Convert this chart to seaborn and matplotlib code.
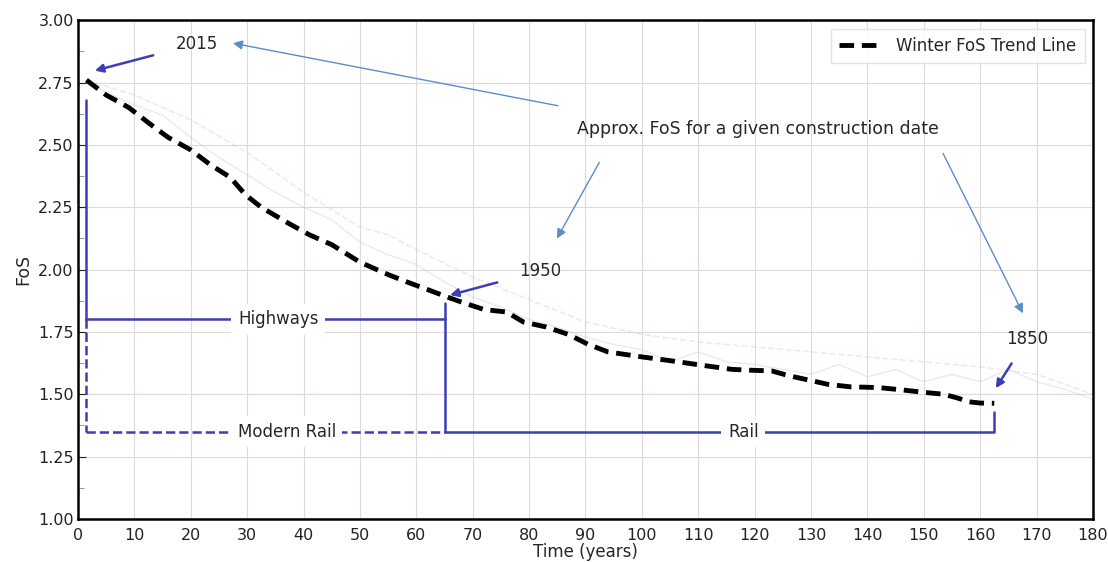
import numpy as np
import pandas as pd
import matplotlib
matplotlib.use('Agg')
import matplotlib.pyplot as plt
from matplotlib.ticker import MultipleLocator
import seaborn as sns

# winter FoS trend line
trend_t = [1.5, 5, 9, 13, 16, 20, 23.5, 27, 29.7, 32.5, 37, 41, 45, 50, 55, 59, 62, 65.5, 68,
           72, 76, 79, 83, 87, 90.5, 94, 100, 105, 110.5, 116, 120, 123, 126, 129, 133, 137,
           142, 146, 150, 153.6, 156, 158, 160, 162.5]
trend_fos = [2.76, 2.70, 2.65, 2.58, 2.53, 2.48, 2.42, 2.37, 2.30, 2.25, 2.19, 2.14, 2.10, 2.03,
             1.98, 1.945, 1.92, 1.89, 1.87, 1.84, 1.83, 1.79, 1.77, 1.74, 1.70, 1.67, 1.65, 1.635,
             1.617, 1.60, 1.596, 1.594, 1.575, 1.56, 1.54, 1.53, 1.527, 1.518, 1.508, 1.50, 1.485,
             1.47, 1.465, 1.464]

# faint construction-date curves in the background
faint1_t = [1.5, 10, 20, 30, 40, 50, 55, 60, 70, 80, 90, 100, 110, 120, 130, 140, 150, 160, 170, 180]
faint1_fos = [2.76, 2.70, 2.60, 2.47, 2.31, 2.17, 2.14, 2.08, 1.97, 1.88, 1.79, 1.74, 1.71, 1.69,
              1.67, 1.65, 1.63, 1.61, 1.58, 1.50]
faint2_t = [1.5, 5, 10, 15, 20, 25, 30, 35, 40, 45, 50, 55, 60, 65, 70, 75, 80, 85, 90, 95, 100,
            105, 110, 115, 120, 125, 130, 135, 140, 145, 150, 155, 160, 165, 170, 175, 180]
faint2_fos = [2.76, 2.71, 2.66, 2.62, 2.53, 2.45, 2.38, 2.31, 2.25, 2.20, 2.11, 2.06, 2.02, 1.95,
              1.89, 1.85, 1.80, 1.77, 1.73, 1.70, 1.68, 1.63, 1.67, 1.63, 1.62, 1.60, 1.58, 1.62,
              1.57, 1.60, 1.55, 1.58, 1.55, 1.60, 1.55, 1.52, 1.48]

df = pd.DataFrame({'t': trend_t, 'fos': trend_fos})
dff1 = pd.DataFrame({'t': faint1_t, 'fos': faint1_fos})
dff2 = pd.DataFrame({'t': faint2_t, 'fos': faint2_fos})

sns.set_style('whitegrid', {'grid.color': '#dedada', 'axes.edgecolor': 'black'})
plt.rcParams['font.family'] = ['DejaVu Sans']

fig = plt.figure(figsize=(11.08, 5.62), dpi=100)
ax = fig.add_axes([0.0704, 0.0765, 0.916, 0.8875])

sns.lineplot(data=dff1, x='t', y='fos', ax=ax, color='#e8b8c8', lw=1.2, ls='--', alpha=0.35)
sns.lineplot(data=dff2, x='t', y='fos', ax=ax, color='#c8c0c8', lw=1.0, alpha=0.35)
sns.lineplot(data=df, x='t', y='fos', ax=ax, color='black', lw=3.5, ls=(0, (3, 1.6)),
             label='Winter FoS Trend Line')

ax.set_xlim(0, 180)
ax.set_ylim(1.0, 3.0)
ax.xaxis.set_major_locator(MultipleLocator(10))
ax.yaxis.set_major_locator(MultipleLocator(0.25))
ax.yaxis.set_minor_locator(MultipleLocator(0.125))
ax.yaxis.set_major_formatter(matplotlib.ticker.FormatStrFormatter('%.2f'))
ax.tick_params(axis='y', which='both', direction='in', left=True, length=4, color='#888888')
ax.tick_params(axis='y', which='major', length=6)
ax.tick_params(labelsize=11.5, colors='#222222', pad=3)
for s in ax.spines.values():
    s.set_linewidth(1.8)
    s.set_color('black')
ax.set_xlabel('Time (years)', fontsize=12, labelpad=0)
ax.set_ylabel('FoS', fontsize=12.5, labelpad=4)

bc = '#3d3db5'
ac = '#5b8ec9'
white = dict(boxstyle='square,pad=0.4', fc='white', ec='none')

# brackets
ax.plot([1.5, 1.5], [2.68, 1.80], color=bc, lw=1.8)
ax.plot([1.5, 65], [1.80, 1.80], color=bc, lw=1.8)
ax.plot([65, 65], [1.865, 1.35], color=bc, lw=1.8)
ax.plot([1.5, 1.5], [1.80, 1.35], color=bc, lw=1.8, ls='--')
ax.plot([1.5, 65], [1.35, 1.35], color=bc, lw=1.8, ls='--')
ax.plot([65, 162.5, 162.5], [1.35, 1.35, 1.43], color=bc, lw=1.8)
ax.text(35.5, 1.80, 'Highways', ha='center', va='center', fontsize=12, bbox=white)
ax.text(37, 1.35, 'Modern Rail', ha='center', va='center', fontsize=12, bbox=white)
ax.text(118, 1.35, 'Rail', ha='center', va='center', fontsize=12, bbox=white)

# year annotations
ax.annotate('2015', xy=(2.5, 2.795), xytext=(21, 2.905), ha='center', va='center', fontsize=12,
            arrowprops=dict(arrowstyle='-|>', color=bc, lw=1.8, shrinkA=14, mutation_scale=12))
ax.annotate('1950', xy=(65.5, 1.895), xytext=(82, 1.995), ha='center', va='center', fontsize=12,
            arrowprops=dict(arrowstyle='-|>', color=bc, lw=1.8, shrinkA=14, mutation_scale=12))
ax.annotate('1850', xy=(162.5, 1.515), xytext=(168.3, 1.72), ha='center', va='center', fontsize=12,
            arrowprops=dict(arrowstyle='-|>', color=bc, lw=1.8, shrinkA=10, mutation_scale=12))

ax.text(120.5, 2.565, 'Approx. FoS for a given construction date', ha='center', va='center',
        fontsize=12.5)
for (x0, y0), (x1, y1) in [((85.6, 2.655), (27, 2.91)),
                           ((92.7, 2.44), (84.7, 2.115)),
                           ((153.2, 2.476), (167.8, 1.815))]:
    ax.annotate('', xy=(x1, y1), xytext=(x0, y0),
                arrowprops=dict(arrowstyle='-|>', color=ac, lw=1.0, mutation_scale=14))

leg = ax.legend(loc='upper right', fontsize=12, frameon=True, handlelength=2.6,
                borderpad=0.5, fancybox=False)
leg.get_frame().set_edgecolor('#dddddd')

fig.savefig('out.png', dpi=100)
